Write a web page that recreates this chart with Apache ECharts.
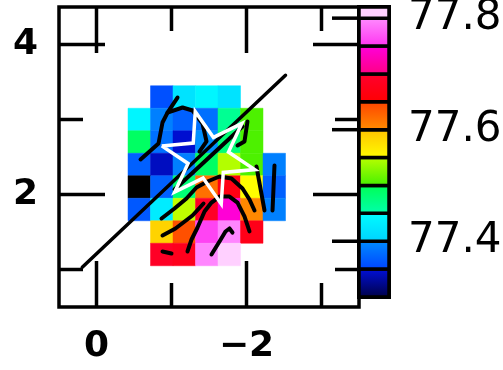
<!DOCTYPE html>
<html>
<head>
<meta charset="utf-8">
<script src="https://cdn.jsdelivr.net/npm/echarts@6/dist/echarts.min.js"></script>
<style>
  html, body { margin: 0; padding: 0; background: #fff; }
  #chart { width: 503px; height: 370px; }
</style>
</head>
<body>
<div id="chart"></div>
<script>
// Pixel map: column centres (x offset) and row centres (y offset), top row first
const cellX = [-0.57, -0.87, -1.17, -1.47, -1.77, -2.07, -2.37];
const cellY = [3.30, 3.00, 2.70, 2.40, 2.10, 1.80, 1.50, 1.20];
const cellSize = 0.3;
const cellValues = [
  [null,   77.36,  77.42,  77.44,  77.42,  null,   null ],
  [77.44,  77.39,  77.37,  77.38,  77.465, 77.505, null ],
  [77.49,  77.38,  77.345, 77.40,  77.48,  77.505, null ],
  [77.37,  77.34,  77.39,  77.49,  77.545, 77.505, 77.39],
  [77.28,  77.37,  77.48,  77.62,  77.67,  77.551, 77.37],
  [77.365, 77.43,  77.55,  77.69,  77.745, 77.605, 77.39],
  [null,   77.585, 77.64,  77.76,  77.795, 77.675, null ],
  [null,   77.69,  77.68,  77.795, 77.81,  null,   null ]
];

// Colour levels of the scale (edges) and the bottom/top colour of each band
const levelEdges = [77.30, 77.35, 77.40, 77.45, 77.50, 77.55, 77.60, 77.65, 77.70, 77.75, 77.80, 77.82];
const levelColors = [
  ['#000040', '#0010e0'],
  ['#0040ff', '#0090ff'],
  ['#00d0ff', '#00ffff'],
  ['#00ffb0', '#00ff50'],
  ['#40f000', '#c0ff00'],
  ['#ffff00', '#ffc000'],
  ['#ff9000', '#ff4000'],
  ['#ff0000', '#ff0030'],
  ['#ff0080', '#ff00e0'],
  ['#ff30f0', '#ff90ff'],
  ['#ffd0ff', '#ffd0ff']
];
const colorbarTicks = [77.4, 77.6, 77.8];

// Axis ticks
const xMajorTicks = [0, -2];
const xMinorTicks = [-1, -3];
const yMajorTicks = [2, 4];
const yMinorTicks = [1, 3];
const xRange = [-3.5, 0.5];
const yRange = [0.5, 4.5];

// Vector segments drawn over the map
const vectorPaths = [
  [[-0.587, 2.467], [-0.827, 2.680], [-0.880, 2.960], [-0.947, 3.093], [-1.080, 3.293]],
  [[-0.947, 3.093], [-1.147, 3.160], [-1.280, 3.120], [-1.413, 2.947], [-1.467, 2.707], [-1.373, 2.573]],
  [[-2.013, 2.973], [-1.973, 2.707], [-1.880, 2.653]],
  [[-1.040, 2.067], [-1.947, 2.907]],
  [[-0.867, 1.680], [-1.040, 1.813], [-1.200, 1.947], [-1.333, 2.093], [-1.480, 2.173], [-1.640, 2.240],
   [-1.800, 2.213], [-1.947, 2.080], [-2.040, 1.933], [-2.107, 1.787]],
  [[-0.880, 1.453], [-1.053, 1.547], [-1.280, 1.720], [-1.427, 1.880]],
  [[-1.213, 1.240], [-1.267, 1.400], [-1.347, 1.560], [-1.440, 1.773], [-1.533, 1.893], [-1.640, 1.973],
   [-1.773, 1.973], [-1.880, 1.893], [-1.973, 1.707], [-2.040, 1.507]],
  [[-0.880, 1.240], [-1.000, 1.213]],
  [[-1.533, 1.200], [-1.640, 1.373], [-1.720, 1.507], [-1.773, 1.547], [-1.813, 1.493]],
  [[-2.133, 2.373], [-2.240, 1.787]],
  [[-2.373, 2.387], [-2.347, 1.787]]
];

// Straight axis line across the map
const axisLinePath = [[0.19, 1.03], [-2.52, 3.59]];

// Six-pointed star marker: centre, outer/inner radius, rotation (degrees)
const starCenter = [-1.49, 2.49];
const starRadii = [0.64, 0.28];
const starRotation = 14.3;

function hexToRgb(h) {
  return [parseInt(h.slice(1, 3), 16), parseInt(h.slice(3, 5), 16), parseInt(h.slice(5, 7), 16)];
}
function mix(c1, c2, t) {
  const a = hexToRgb(c1), b = hexToRgb(c2);
  return 'rgb(' + a.map((v, i) => Math.round(v + (b[i] - v) * t)).join(',') + ')';
}
function colorAt(v) {
  if (v < levelEdges[0]) return '#000000';
  for (let i = 0; i < levelColors.length; i++) {
    const lo = levelEdges[i], hi = levelEdges[i + 1];
    if (v <= hi || i === levelColors.length - 1) {
      const t = Math.max(0, Math.min(1, (v - lo) / (hi - lo)));
      return mix(levelColors[i][0], levelColors[i][1], t);
    }
  }
}

// Cell list [x, y, value]
const cells = [];
cellValues.forEach((row, r) => row.forEach((v, c) => {
  if (v !== null) cells.push([cellX[c], cellY[r], v]);
}));

// Star outline
const starPath = [];
for (let k = 0; k <= 12; k++) {
  const ang = (starRotation + k * 30) * Math.PI / 180;
  const rad = k % 2 === 0 ? starRadii[0] : starRadii[1];
  starPath.push([starCenter[0] + rad * Math.cos(ang), starCenter[1] + rad * Math.sin(ang)]);
}

// Colour bar bands
const bands = levelColors.map((c, i) => [0.5, levelEdges[i], levelEdges[i + 1], i]);

const FRAME = 3.5;
const MAJOR = 46, MINOR = 24;

// Frame ticks on all four sides: [axis (0 = x, 1 = y), value, length]
const frameTicks = [];
xMajorTicks.forEach(v => frameTicks.push([0, v, MAJOR]));
xMinorTicks.forEach(v => frameTicks.push([0, v, MINOR]));
yMajorTicks.forEach(v => frameTicks.push([1, v, MAJOR]));
yMinorTicks.forEach(v => frameTicks.push([1, v, MINOR]));

const labelFont = { fontFamily: 'DejaVu Sans', fontWeight: 'bold', fontSize: 36, color: '#000' };
function fmt(v) { return v < 0 ? '\u2212' + Math.abs(v) : String(v); }

const tickStyle = { stroke: '#000', lineWidth: FRAME };

const lineSeries = vectorPaths.map(p => ({
  type: 'line', xAxisIndex: 0, yAxisIndex: 0, data: p, symbol: 'none', z: 3,
  lineStyle: { color: '#000', width: 4, cap: 'round', join: 'round' }, silent: true
}));

const chart = echarts.init(document.getElementById('chart'), null, { renderer: 'canvas' });
chart.setOption({
  animation: false,
  backgroundColor: '#fff',
  grid: [
    { left: 59, top: 7, width: 300, height: 300, show: true, borderColor: '#000', borderWidth: FRAME,
      backgroundColor: 'transparent', outerBoundsMode: 'none', containLabel: false },
    { left: 359, top: 7, width: 30, height: 290, show: true, borderColor: '#000', borderWidth: 4,
      backgroundColor: 'transparent', outerBoundsMode: 'none', containLabel: false }
  ],
  xAxis: [
    {
      type: 'value', gridIndex: 0, position: 'bottom', min: xRange[0], max: xRange[1], inverse: true,
      axisLine: { show: false }, splitLine: { show: false }, axisTick: { show: false },
      axisLabel: Object.assign({ show: true, customValues: xMajorTicks, margin: 22, formatter: fmt }, labelFont)
    },
    { type: 'value', gridIndex: 1, min: 0, max: 1, show: false }
  ],
  yAxis: [
    {
      type: 'value', gridIndex: 0, position: 'left', min: yRange[0], max: yRange[1],
      axisLine: { show: false }, splitLine: { show: false }, axisTick: { show: false },
      axisLabel: Object.assign({ show: true, customValues: yMajorTicks, margin: 21, formatter: fmt }, labelFont)
    },
    {
      type: 'value', gridIndex: 1, position: 'right', min: 77.30, max: 77.82,
      axisLine: { show: false }, splitLine: { show: false }, axisTick: { show: false },
      axisLabel: { show: true, customValues: colorbarTicks, margin: 19,
        formatter: v => v.toFixed(1),
        fontFamily: 'DejaVu Sans', fontSize: 42, color: '#000' }
    }
  ],
  series: [
    {
      type: 'custom', xAxisIndex: 0, yAxisIndex: 0, data: cells, z: 1, silent: true,
      encode: { x: 0, y: 1 },
      renderItem: function (params, api) {
        const x = api.value(0), y = api.value(1), v = api.value(2);
        const a = api.coord([x - cellSize / 2, y + cellSize / 2]);
        const b = api.coord([x + cellSize / 2, y - cellSize / 2]);
        return {
          type: 'rect',
          shape: { x: Math.min(a[0], b[0]), y: Math.min(a[1], b[1]),
                   width: Math.abs(b[0] - a[0]), height: Math.abs(b[1] - a[1]) },
          style: { fill: colorAt(v), stroke: colorAt(v), lineWidth: 0.5 }
        };
      }
    },
    ...lineSeries,
    {
      type: 'line', xAxisIndex: 0, yAxisIndex: 0, data: axisLinePath, symbol: 'none', z: 4, silent: true,
      lineStyle: { color: '#000', width: 3.5, cap: 'round' }
    },
    {
      type: 'line', xAxisIndex: 0, yAxisIndex: 0, data: starPath, symbol: 'none', z: 5, silent: true,
      lineStyle: { color: '#fff', width: 3.5, join: 'miter' }
    },
    {
      // inward ticks on the four sides of the map frame
      type: 'custom', xAxisIndex: 0, yAxisIndex: 0, data: frameTicks, z: 6, silent: true,
      encode: { x: 1, y: 1 },
      renderItem: function (params, api) {
        const axis = api.value(0), v = api.value(1), len = api.value(2);
        let p1, p2;
        if (axis === 0) {
          p1 = api.coord([v, yRange[0]]);
          p2 = api.coord([v, yRange[1]]);
          return { type: 'group', children: [
            { type: 'line', shape: { x1: p1[0], y1: p1[1], x2: p1[0], y2: p1[1] - len }, style: tickStyle },
            { type: 'line', shape: { x1: p2[0], y1: p2[1], x2: p2[0], y2: p2[1] + len }, style: tickStyle }
          ] };
        }
        p1 = api.coord([xRange[1], v]);
        p2 = api.coord([xRange[0], v]);
        return { type: 'group', children: [
          { type: 'line', shape: { x1: p1[0], y1: p1[1], x2: p1[0] + len, y2: p1[1] }, style: tickStyle },
          { type: 'line', shape: { x1: p2[0], y1: p2[1], x2: p2[0] - len, y2: p2[1] }, style: tickStyle }
        ] };
      }
    },
    {
      type: 'custom', xAxisIndex: 1, yAxisIndex: 1, data: bands, silent: true,
      encode: { x: 0, y: [1, 2] },
      renderItem: function (params, api) {
        const lo = api.value(1), hi = api.value(2), i = api.value(3);
        const a = api.coord([0, hi]);
        const b = api.coord([1, lo]);
        return {
          type: 'rect',
          shape: { x: a[0], y: a[1], width: b[0] - a[0], height: b[1] - a[1] },
          style: {
            fill: { type: 'linear', x: 0, y: 0, x2: 0, y2: 1, colorStops: [
              { offset: 0, color: levelColors[i][1] },
              { offset: 1, color: levelColors[i][0] }
            ] },
            stroke: '#000', lineWidth: 3.5
          }
        };
      }
    },
    {
      // colour bar ticks pointing left from its edge
      type: 'custom', xAxisIndex: 1, yAxisIndex: 1, data: colorbarTicks.map(v => [0, v]), z: 6, silent: true,
      encode: { x: 0, y: 1 },
      renderItem: function (params, api) {
        const p = api.coord([0, api.value(1)]);
        return { type: 'line', shape: { x1: p[0], y1: p[1], x2: p[0] - 27, y2: p[1] }, style: tickStyle };
      }
    }
  ]
});
</script>
</body>
</html>
